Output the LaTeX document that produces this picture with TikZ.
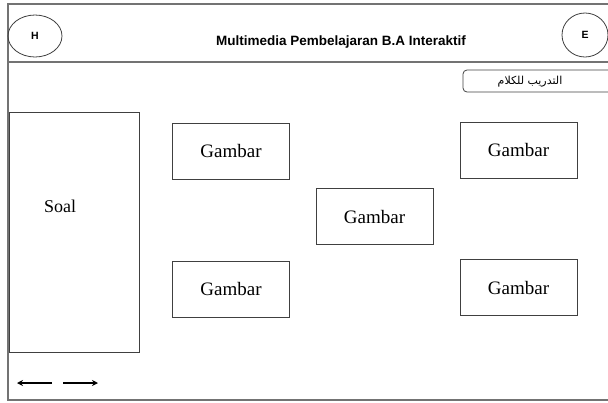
\documentclass[tikz,border=0pt]{standalone}
\usepackage{fontspec}
\setmainfont{Liberation Serif}
\setsansfont{Liberation Sans}
\newfontfamily\arabicfont[Script=Arabic]{DejaVu Sans}
\TeXXeTstate=1
\usetikzlibrary{arrows.meta,shapes.geometric}
\colorlet{frame edge}{black!55}
\colorlet{box edge}{black!75}
\def\gambarboxes{{(231,151)/ga}, {(231,289)/gb}, {(374.5,216.5)/gc}, {(518.5,150)/gd}, {(518.5,287.5)/ge}}
\tikzstyle{frame} = [draw=frame edge, line width=1.2pt]
\tikzstyle{gambar} = [draw=box edge, line width=0.9pt, minimum width=117pt, minimum height=56pt, inner sep=0pt, font=\fontsize{19}{21}\selectfont]
\tikzstyle{button} = [draw=box edge, line width=0.8pt, ellipse, inner sep=0pt, font=\sffamily\bfseries\fontsize{10.5}{12}\selectfont]
\tikzstyle{nav arrow} = [draw, line width=1.6pt, -{Stealth[length=6pt,width=6pt]}]

\begin{document}
\begin{tikzpicture}[x=1pt,y=-1pt]
  \useasboundingbox (0,0) rectangle (608,402);

  % The outer frame and the header
  \path[frame] (616,4) -- (8,4) -- (8,400) -- (616,400);
  \path[frame] (8,62) -- (616,62);
  \node[button, minimum width=54pt, minimum height=42pt] (h) at (35,36) {H};
  \node[button, minimum width=46pt, minimum height=44pt] (e) at (585,35) {E};
  \node[font=\sffamily\bfseries\fontsize{13.5}{15}\selectfont] (title) at (341,42) {Multimedia Pembelajaran B.A Interaktif};

  % The tab
  \draw[box edge, line width=0.8pt, rounded corners=4pt] (620,70) -- (463,70) -- (463,92) -- (620,92);
  \node[font=\arabicfont\fontsize{11}{13}\selectfont] (tab) at (530,82) {\beginR التدريب للكلام\endR};

  % The question and the pictures
  \node[draw=box edge, line width=0.9pt, minimum width=130pt, minimum height=240pt] (soal) at (74,232) {};
  \node[font=\fontsize{18}{20}\selectfont] (soaltext) at (60,206) {Soal};
  \foreach \pos/\name in \gambarboxes
    \node[gambar] (\name) at \pos {Gambar};

  % Back and next
  \coordinate (back-a) at (52,383);
  \coordinate (back-b) at (17,383);
  \coordinate (next-a) at (63,383);
  \coordinate (next-b) at (98,383);
  \path[nav arrow] (back-a) -- (back-b);
  \path[nav arrow] (next-a) -- (next-b);

\end{tikzpicture}
\end{document}
